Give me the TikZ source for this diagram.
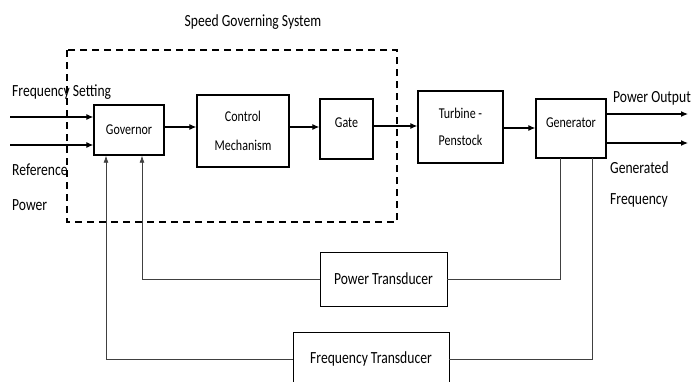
\documentclass[tikz,border=0pt]{standalone}
\usepackage{fontspec}
\setmainfont{Carlito}[FakeStretch=0.8]
\usetikzlibrary{arrows.meta}
\begin{document}
\begin{tikzpicture}[x=1pt,y=-1pt,
  blk/.style={draw, line width=1.4pt, inner sep=0pt, font=\fontsize{15}{17}\selectfont, align=center},
  tbox/.style={draw, line width=0.8pt, inner sep=0pt, font=\fontsize{17}{19}\selectfont},
  arr/.style={line width=1.1pt, -{Latex[length=7pt,width=6pt]}},
  fb/.style={line width=0.7pt, draw=black!75},
  fbarr/.style={line width=0.7pt, draw=black!75, -{Latex[length=7pt,width=5pt]}},
  lbl/.style={font=\fontsize{17}{19}\selectfont, inner sep=0pt, anchor=west}]
\useasboundingbox (0,0) rectangle (694,381);
% dashed frame
\draw[line width=2pt, dash pattern=on 7pt off 5pt] (67,50) rectangle (397,222);
\node[font=\fontsize{17}{19}\selectfont] (title) at (253,22) {Speed Governing System};
% blocks
\node[blk, minimum width=70pt, minimum height=50pt] (gov) at (129,130) {Governor};
\node[blk, minimum width=92pt, minimum height=72pt] (ctrl) at (243,131) {Control\\[12pt]Mechanism};
\node[blk, minimum width=53pt, minimum height=60pt] (gate) at (346.5,129) {};
\node[font=\fontsize{15}{17}\selectfont] (gatet) at (346.5,123) {Gate};
\node[blk, minimum width=85pt, minimum height=72pt] (turb) at (460.5,127) {Turbine -\\[10pt]Penstock};
\node[blk, minimum width=70pt, minimum height=59pt] (gen) at (571,128.5) {};
\node[font=\fontsize{15}{17}\selectfont] (gent) at (571,123) {Generator};
\node[tbox, minimum width=127pt, minimum height=54pt] (pt) at (383.5,279) {Power Transducer};
\node[tbox, minimum width=156pt, minimum height=54pt] (ft) at (371,359) {Frequency Transducer};
% inputs
\coordinate (in1) at (10,117);
\coordinate (in2) at (10,145);
\draw[arr] (in1) -- (in1 -| gov.west);
\draw[arr] (in2) -- (in2 -| gov.west);
% forward path
\draw[arr] (gov.east |- 0,127) -- (ctrl.west |- 0,127);
\draw[arr] (ctrl.east |- 0,127) -- (gate.west |- 0,127);
\draw[arr] (gate.east |- 0,126) -- (turb.west |- 0,126);
\draw[arr] (turb.east |- 0,128) -- (gen.west |- 0,128);
% outputs
\coordinate (out1) at (688,114);
\coordinate (out2) at (688,143);
\draw[arr] (out1 -| gen.east) -- (out1);
\draw[arr] (out2 -| gen.east) -- (out2);
% feedback
\coordinate (g1) at (560,158);
\coordinate (g2) at (592,158);
\coordinate (c1) at (142,278);
\coordinate (c2) at (106,353);
\draw[fb] (g1) |- (pt.east);
\draw[fbarr] (pt.west) -| (c1 |- gov.south);
\draw[fb] (g2) |- (ft.east);
\draw[fbarr] (ft.west) -| (c2 |- gov.south);
% labels
\node[lbl] (fs) at (12,92) {Frequency Setting};
\node[lbl] (rp1) at (12,170) {Reference};
\node[lbl] (rp2) at (12,205) {Power};
\node[lbl] (po) at (613,98) {Power Output};
\node[lbl] (gf1) at (610,168) {Generated};
\node[lbl] (gf2) at (610,200) {Frequency};
\end{tikzpicture}
\end{document}
